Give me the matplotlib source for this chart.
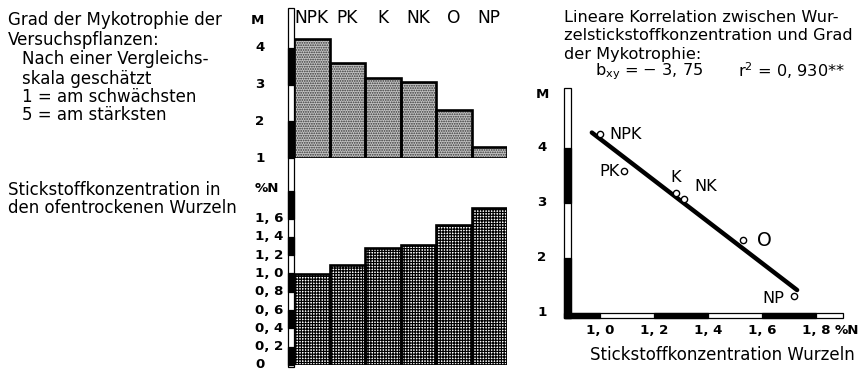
import matplotlib
matplotlib.use("Agg")
import matplotlib.pyplot as plt
import matplotlib.transforms as mtrans
from matplotlib.patches import Rectangle
import numpy as np

# ---------------- data ----------------
categories = ["NPK", "PK", "K", "NK", "O", "NP"]
mykotrophie = [4.25, 3.58, 3.19, 3.08, 2.32, 1.31]      # Grad der Mykotrophie (M)
stickstoff = [1.00, 1.09, 1.28, 1.31, 1.53, 1.72]        # % N in den Wurzeln
m_ticks = [1, 2, 3, 4]
n_ticks = [0, 0.2, 0.4, 0.6, 0.8, 1.0, 1.2, 1.4, 1.6]
n_ticklabels = ["0", "0, 2", "0, 4", "0, 6", "0, 8", "1, 0", "1, 2", "1, 4", "1, 6"]
sc_xticks = [1.0, 1.2, 1.4, 1.6, 1.8]
sc_xticklabels = ["1, 0", "1, 2", "1, 4", "1, 6", "1, 8"]
m_black = [(3, 4), (1, 2)]
n_black = [(0, 0.2), (0.4, 0.6), (0.8, 1.0), (1.2, 1.4), (1.6, 1.9)]
sc_y_black = [(3, 4), (0.9, 2)]
sc_x_black = [(0.87, 1.0), (1.2, 1.4), (1.6, 1.8)]

plt.rcParams["font.family"] = ["DejaVu Sans"]
plt.rcParams["hatch.linewidth"] = 0.85
FS_L = 12.0   # left text
FS_R = 11.6   # right text
FS_T = 9.6    # tick labels (bold)
FS_C = 12.3   # category labels

W, H = 866, 376
fig = plt.figure(figsize=(W / 100, H / 100), dpi=100)


def box(x0, y0, x1, y1):
    return [x0 / W, 1 - y1 / H, (x1 - x0) / W, (y1 - y0) / H]


def fx(x):
    return x / W


def fy(y):
    return 1 - y / H


def ftext(x, y, s, **kw):
    kw.setdefault("fontsize", FS_L)
    kw.setdefault("va", "center")
    fig.text(fx(x), fy(y), s, **kw)


# ---------------- left text ----------------
ftext(8, 20, "Grad der Mykotrophie der")
ftext(8, 40, "Versuchspflanzen:")
ftext(22, 59, "Nach einer Vergleichs-")
ftext(22, 79, "skala geschätzt")
ftext(22, 97, "1 = am schwächsten")
ftext(22, 115, "5 = am stärksten")
ftext(8, 190, "Stickstoffkonzentration in")
ftext(8, 208, "den ofentrockenen Wurzeln")

# ---------------- vertical scale strip for bar charts ----------------
fig.patches.append(Rectangle((fx(288), fy(367)), 6 / W, 359 / H, transform=fig.transFigure,
                             fc="white", ec="black", lw=0.9, zorder=-1))

x = np.arange(len(categories))

# ---------------- top bar chart ----------------
ax_top = fig.add_axes(box(294, 8, 507, 158))
ax_top.set_xlim(-0.5, 5.5)
ax_top.set_ylim(1, 5.09)
ax_top.axis("off")
hm = np.array(mykotrophie) - 1
ax_top.bar(x, hm, bottom=1, width=1.0, color="#c4c4c4", edgecolor="#333333", hatch=".......", lw=0)
ax_top.bar(x, hm, bottom=1, width=1.0, fill=False, edgecolor="black", lw=1.9)
tr_top = mtrans.blended_transform_factory(fig.transFigure, ax_top.transData)
for lo, hi in m_black:
    ax_top.add_patch(Rectangle((fx(288), lo), 6 / W, hi - lo, transform=tr_top, fc="black",
                               ec="black", lw=0.9, clip_on=False))
for v in m_ticks:
    ax_top.text(fx(255), v, str(v), transform=tr_top, ha="left", va="center", fontsize=FS_T,
                fontweight="bold")
ftext(251, 20, "M", fontweight="bold", fontsize=FS_T)
tr_cat = mtrans.blended_transform_factory(ax_top.transData, fig.transFigure)
for i, c in enumerate(categories):
    ax_top.text(i, fy(18), c, transform=tr_cat, ha="center", va="center", fontsize=FS_C)

# ---------------- bottom bar chart ----------------
ax_bot = fig.add_axes(box(294, 160, 507, 365))
ax_bot.set_xlim(-0.5, 5.5)
ax_bot.set_ylim(0, 205 / 91.5)
ax_bot.axis("off")
ax_bot.bar(x, stickstoff, width=1.0, color="white", edgecolor="black", hatch="++++++", lw=0)
ax_bot.bar(x, stickstoff, width=1.0, fill=False, edgecolor="black", lw=1.9)
tr_bot = mtrans.blended_transform_factory(fig.transFigure, ax_bot.transData)
for lo, hi in n_black:
    ax_bot.add_patch(Rectangle((fx(288), lo), 6 / W, hi - lo, transform=tr_bot, fc="black",
                               ec="black", lw=0.9, clip_on=False))
for v, lab in zip(n_ticks, n_ticklabels):
    ax_bot.text(fx(255), v, lab, transform=tr_bot, ha="left", va="center", fontsize=FS_T,
                fontweight="bold")
ftext(255, 188, "%N", fontweight="bold", fontsize=FS_T)

# ---------------- right text ----------------
ftext(564, 17, "Lineare Korrelation zwischen Wur-", fontsize=FS_R)
ftext(564, 36, "zelstickstoffkonzentration und Grad", fontsize=FS_R)
ftext(564, 54, "der Mykotrophie:", fontsize=FS_R)
ftext(595, 72, r"b$_{\mathregular{xy}}$ = − 3, 75", fontsize=FS_R)
ftext(738, 71, r"r$^{\mathregular{2}}$ = 0, 930**", fontsize=FS_R)

# ---------------- scatter ----------------
ax_sc = fig.add_axes(box(567, 88, 843, 317))
ax_sc.set_xlim(0.878, 1.9)
ax_sc.set_ylim(0.927, 5.09)
ax_sc.axis("off")
N = np.array(stickstoff)
M = np.array(mykotrophie)
b, a = np.polyfit(N, M, 1)
xs = np.array([N.min() - 0.03, N.max() + 0.01])
ax_sc.plot(xs, a + b * xs, color="black", lw=3.2, solid_capstyle="round", zorder=2)
ax_sc.plot(N, M, "o", ms=4.5, mfc="white", mec="black", mew=1.0, zorder=3)
offsets = {"NPK": (6.5, 0, "left"), "PK": (-3, 0, "right"), "K": (0, 11, "center"),
           "NK": (8, 8.5, "left"), "O": (15, 0, "center"), "NP": (-7, -1.5, "right")}
for c, n, m in zip(categories, N, M):
    dx, dy, ha = offsets[c]
    ax_sc.annotate(c, (n, m), xytext=(dx, dy), textcoords="offset points", ha=ha,
                   va="center", fontsize=FS_R + (2 if c == "O" else 0))

# scatter axis strips
fig.patches.append(Rectangle((fx(564), fy(318)), 7 / W, 230 / H, transform=fig.transFigure,
                             fc="white", ec="black", lw=0.9, zorder=-1))
fig.patches.append(Rectangle((fx(564), fy(318)), 279 / W, 5 / H, transform=fig.transFigure,
                             fc="white", ec="black", lw=0.9, zorder=-1))
tr_sy = mtrans.blended_transform_factory(fig.transFigure, ax_sc.transData)
for lo, hi in sc_y_black:
    ax_sc.add_patch(Rectangle((fx(564), lo), 7 / W, hi - lo, transform=tr_sy, fc="black",
                              ec="black", lw=0.9, clip_on=False))
tr_sx = mtrans.blended_transform_factory(ax_sc.transData, fig.transFigure)
for lo, hi in sc_x_black:
    ax_sc.add_patch(Rectangle((lo, fy(318)), hi - lo, 5 / H, transform=tr_sx, fc="black",
                              ec="black", lw=0.9, clip_on=False))
for v in m_ticks:
    ax_sc.text(fx(542), v, str(v), transform=tr_sy, ha="center", va="center", fontsize=FS_T,
               fontweight="bold")
ftext(542, 95, "M", ha="center", fontweight="bold", fontsize=FS_T)
for v, lab in zip(sc_xticks, sc_xticklabels):
    ax_sc.text(v, fy(331), lab, transform=tr_sx, ha="center", va="center", fontsize=FS_T,
               fontweight="bold")
ftext(847, 331, "%N", ha="center", fontweight="bold", fontsize=FS_T)
ftext(722, 355, "Stickstoffkonzentration Wurzeln", ha="center", fontsize=FS_R + 0.4)

fig.savefig("out.png", dpi=100)
